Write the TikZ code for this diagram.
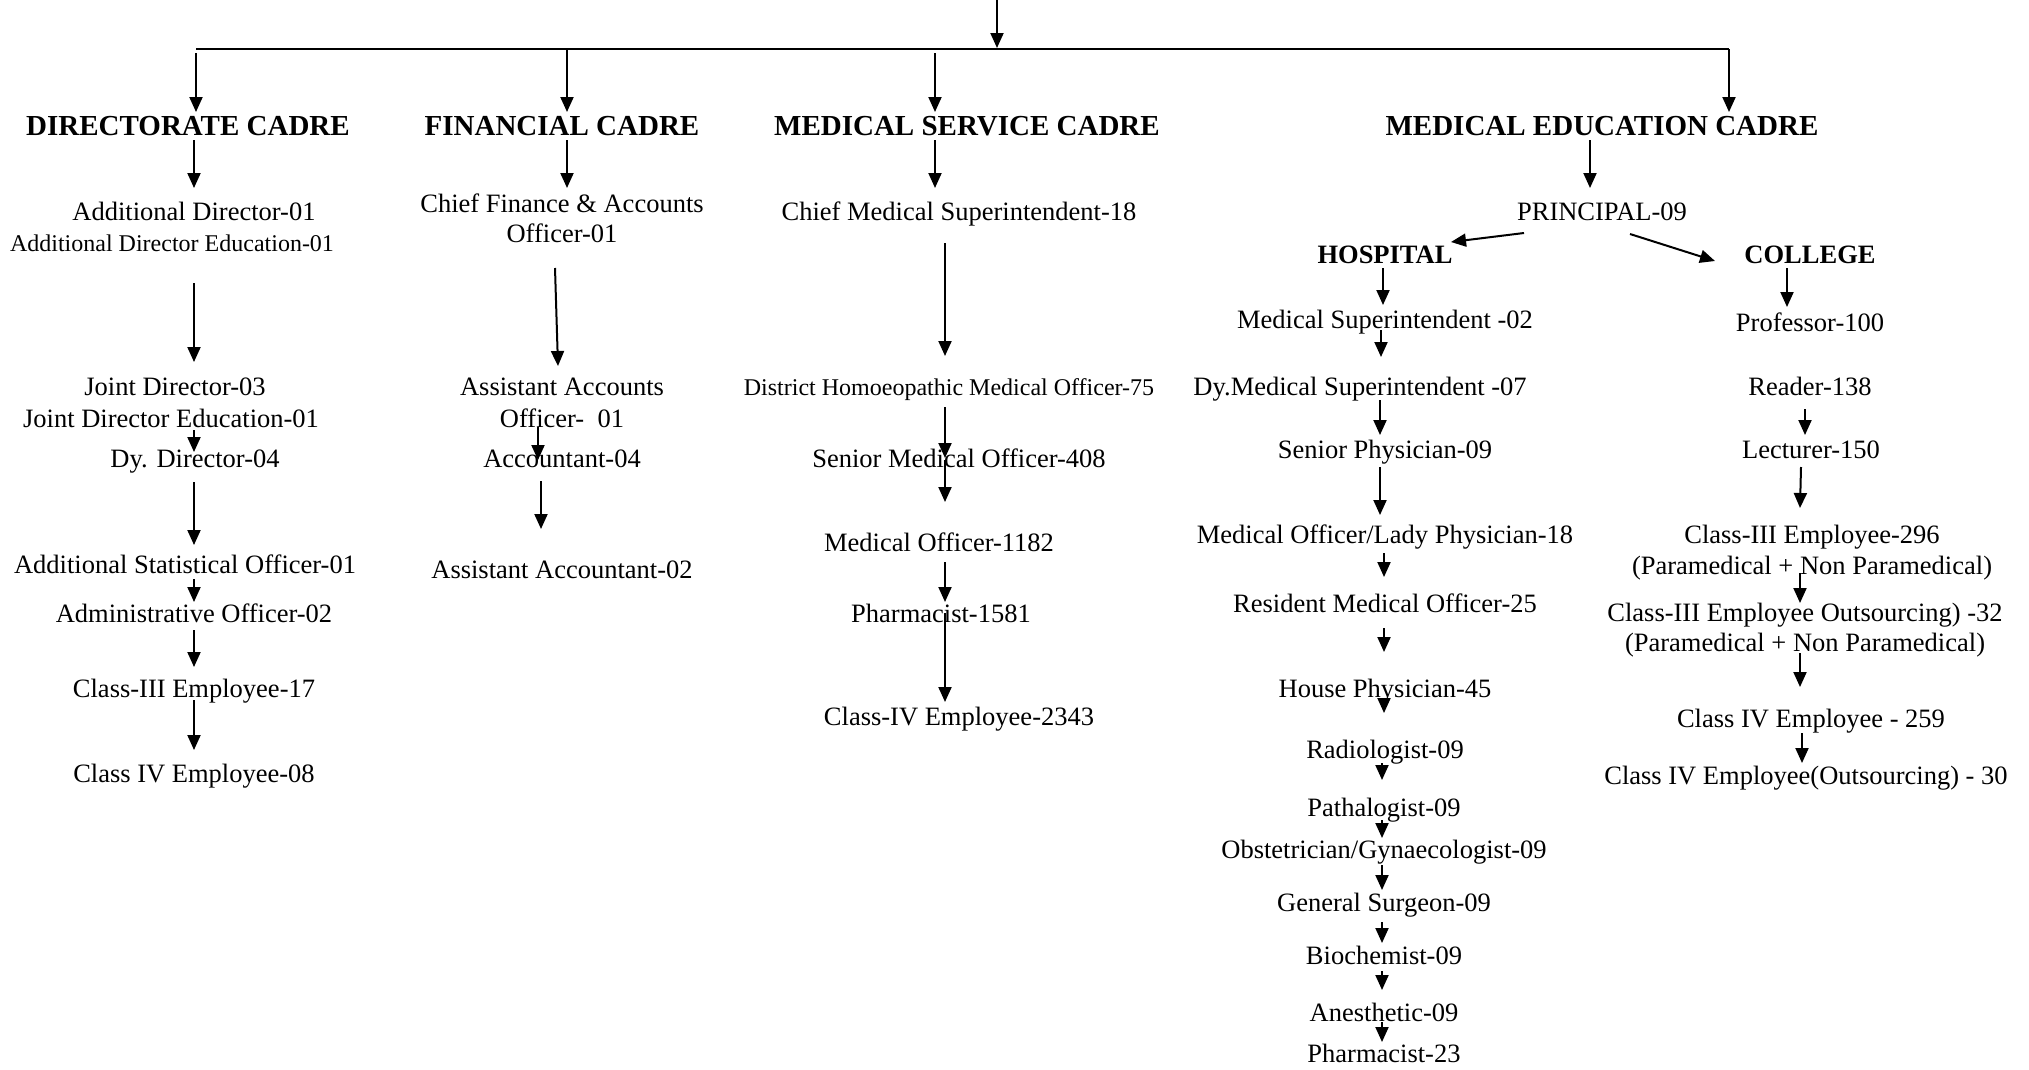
\documentclass[tikz,border=0pt]{standalone}
\usepackage{fontspec}
\setmainfont{Liberation Serif}
\usetikzlibrary{arrows.meta}
\tikzset{
  txt/.style={inner sep=0pt, anchor=base, font=\fontsize{26.5}{30}\selectfont},
  sml/.style={inner sep=0pt, anchor=base, font=\fontsize{24}{28}\selectfont},
  head/.style={inner sep=0pt, anchor=base, font=\fontsize{29}{33}\selectfont\bfseries},
  sub/.style={inner sep=0pt, anchor=base, font=\fontsize{26.5}{30}\selectfont\bfseries},
  arr/.style={line width=2pt, -{Triangle[length=15pt,width=13pt]}},
  ln/.style={line width=2pt}
}
\newcommand{\myarr}[3]{\coordinate (#1-s) at (#2); \coordinate (#1-e) at (#3); \draw[arr] (#1-s) -- (#1-e);}
\begin{document}
\begin{tikzpicture}[x=1pt,y=-1pt]
\useasboundingbox (0,0) rectangle (2029,1069);
% headings
\node[head] (hd1) at (188,135) {DIRECTORATE CADRE};
\node[head] (hd2) at (562,135) {FINANCIAL CADRE};
\node[head] (hd3) at (967,135) {MEDICAL SERVICE CADRE};
\node[head] (hd4) at (1602,135) {MEDICAL EDUCATION CADRE};
% directorate
\node[txt] (d1) at (194,220) {Additional Director-01};
\node[sml] (d2) at (172,251) {Additional Director Education-01};
\node[txt] (d3) at (175,395) {Joint Director-03};
\node[txt] (d4) at (171,427) {Joint Director Education-01};
\node[txt] (d5) at (195,467) {Dy. Director-04};
\node[txt] (d6) at (185,573) {Additional Statistical Officer-01};
\node[txt] (d7) at (194,622) {Administrative Officer-02};
\node[txt] (d8) at (194,697) {Class-III Employee-17};
\node[txt] (d9) at (194,782) {Class IV Employee-08};
% financial
\node[txt] (f1) at (562,212) {Chief Finance \& Accounts};
\node[txt] (f2) at (562,242) {Officer-01};
\node[txt] (f3) at (562,395) {Assistant Accounts};
\node[txt] (f4) at (562,427) {Officer-~~01};
\node[txt] (f5) at (562,467) {Accountant-04};
\node[txt] (f6) at (562,578) {Assistant Accountant-02};
% medical service
\node[txt] (m1) at (959,220) {Chief Medical Superintendent-18};
\node[sml] (m2) at (949,395) {District Homoeopathic Medical Officer-75};
\node[txt] (m3) at (959,467) {Senior Medical Officer-408};
\node[txt] (m4) at (939,551) {Medical Officer-1182};
\node[txt] (m5) at (941,622) {Pharmacist-1581};
\node[txt] (m6) at (959,725) {Class-IV Employee-2343};
% medical education
\node[txt] (p) at (1602,220) {PRINCIPAL-09};
\node[sub] (hosp) at (1385,263) {HOSPITAL};
\node[sub] (coll) at (1810,263) {COLLEGE};
\node[txt] (h1) at (1385,328) {Medical Superintendent -02};
\node[txt] (h2) at (1360,395) {Dy.Medical Superintendent -07};
\node[txt] (h3) at (1385,458) {Senior Physician-09};
\node[txt] (h4) at (1385,543) {Medical Officer/Lady Physician-18};
\node[txt] (h5) at (1385,612) {Resident Medical Officer-25};
\node[txt] (h6) at (1385,697) {House Physician-45};
\node[txt] (h7) at (1385,758) {Radiologist-09};
\node[txt] (h8) at (1384,816) {Pathalogist-09};
\node[txt] (h9) at (1384,858) {Obstetrician/Gynaecologist-09};
\node[txt] (h10) at (1384,911) {General Surgeon-09};
\node[txt] (h11) at (1384,964) {Biochemist-09};
\node[txt] (h12) at (1384,1021) {Anesthetic-09};
\node[txt] (h13) at (1384,1062) {Pharmacist-23};
\node[txt] (c1) at (1810,331) {Professor-100};
\node[txt] (c2) at (1810,395) {Reader-138};
\node[txt] (c3) at (1811,458) {Lecturer-150};
\node[txt] (c4) at (1812,543) {Class-III Employee-296};
\node[txt] (c5) at (1812,574) {(Paramedical + Non Paramedical)};
\node[txt] (c6) at (1805,621) {Class-III Employee Outsourcing) -32};
\node[txt] (c7) at (1805,651) {(Paramedical + Non Paramedical)};
\node[txt] (c8) at (1811,727) {Class IV Employee - 259};
\node[txt] (c9) at (1806,784) {Class IV Employee(Outsourcing) - 30};
% top structure
\myarr{top}{997,0}{997,48}
\coordinate (busL) at (196,49);
\coordinate (busR) at (1729,49);
\draw[ln] (busL) -- (busR);
\coordinate (busE) at (1729,112);
\draw[arr] (busR) -- (busE);
\myarr{a1}{196,53}{196,112}
\myarr{a2}{567,49}{567,112}
\myarr{a3}{935,53}{935,112}
\myarr{b1}{194,140}{194,188}
\myarr{b2}{567,140}{567,188}
\myarr{b3}{935,140}{935,188}
\myarr{b4}{1590,140}{1590,188}
% directorate arrows
\myarr{da1}{194,283}{194,362}
\myarr{da2}{194,430}{194,452}
\myarr{da3}{194,482}{194,545}
\myarr{da4}{194,579}{194,602}
\myarr{da5}{194,630}{194,667}
\myarr{da6}{194,700}{194,750}
% financial arrows
\myarr{fa1}{555,268}{558,366}
\myarr{fa2}{538,427}{538,460}
\myarr{fa3}{541,481}{541,529}
% medical service arrows
\myarr{ma1}{945,243}{945,356}
\myarr{ma2}{945,407}{945,458}
\myarr{ma3}{945,460}{945,502}
\myarr{ma4}{945,562}{945,602}
\myarr{ma5}{945,613}{945,702}
% medical education arrows
\myarr{pa1}{1524,233}{1451,242}
\myarr{pa2}{1630,234}{1715,261}
\myarr{ha0}{1383,268}{1383,305}
\myarr{ca0}{1787,268}{1787,307}
\myarr{ha1}{1381,330}{1381,357}
\myarr{ha2}{1380,400}{1380,435}
\myarr{ca1}{1805,409}{1805,435}
\myarr{ha3}{1380,467}{1380,515}
\myarr{ca2}{1801,467}{1800,508}
\myarr{ha4}{1384,553}{1384,577}
\myarr{ca3}{1800,573}{1800,603}
\myarr{ha5}{1384,628}{1384,652}
\myarr{ca4}{1800,653}{1800,687}
\myarr{ha6}{1384,698}{1384,713}
\myarr{ca5}{1802,733}{1802,763}
\myarr{ha7}{1382,763}{1382,780}
\myarr{ha8}{1382,820}{1382,838}
\myarr{ha9}{1382,865}{1382,890}
\myarr{ha10}{1382,922}{1382,943}
\myarr{ha11}{1382,971}{1382,990}
\myarr{ha12}{1382,1022}{1382,1042}
\end{tikzpicture}
\end{document}
